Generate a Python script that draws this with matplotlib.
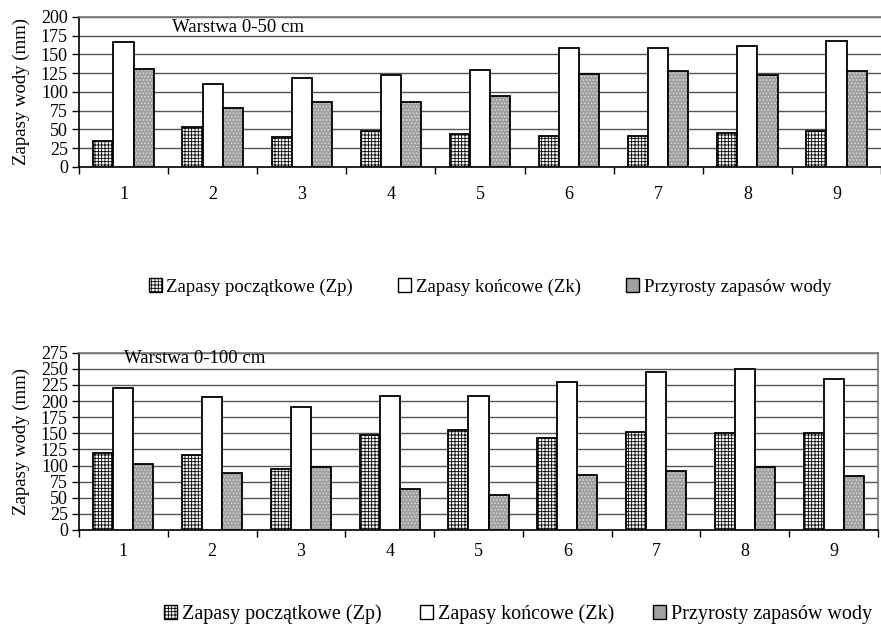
import matplotlib
matplotlib.use("Agg")
import matplotlib.pyplot as plt
import matplotlib.patches as mpatches
import numpy as np

plt.rcParams['font.family'] = ['Liberation Serif', 'DejaVu Serif']
plt.rcParams['hatch.linewidth'] = 0.6

categories = ['1', '2', '3', '4', '5', '6', '7', '8', '9']

# Warstwa 0-50 cm
zp_50 = [35, 53, 40, 48, 44, 41, 41, 45, 48]
zk_50 = [166, 111, 118, 122, 129, 159, 159, 161, 168]
pr_50 = [131, 78, 87, 87, 94, 124, 128, 122, 128]

# Warstwa 0-100 cm
zp_100 = [120, 117, 95, 148, 155, 143, 152, 150, 150]
zk_100 = [221, 206, 191, 208, 208, 230, 245, 250, 234]
pr_100 = [102, 89, 98, 64, 54, 86, 92, 98, 84]

series_names = ['Zapasy początkowe (Zp)', 'Zapasy końcowe (Zk)', 'Przyrosty zapasów wody']

W, H = 881, 624
fig = plt.figure(figsize=(W / 100, H / 100), dpi=100)

def px_axes(x0, y0, x1, y1):
    return fig.add_axes([x0 / W, 1 - y1 / H, (x1 - x0) / W, (y1 - y0) / H])

ax1 = px_axes(79, 17, 881, 167)
ax2 = px_axes(79, 352.7, 878, 530)

BW = 0.226
GRAY = '#a0a0a0'

def draw(ax, zp, zk, pr, ymax, label_text, tx, ty, right_spine, xlab_pad):
    x = np.arange(len(categories))
    ax.set_axisbelow(True)
    ax.yaxis.grid(True, color='#555555', linewidth=1.0)
    # Zp: white with dense black grid hatch
    ax.bar(x - BW, zp, BW, color='white', edgecolor='black', hatch='+++++', linewidth=1.3, zorder=3)
    # Zk: white
    ax.bar(x, zk, BW, color='white', edgecolor='black', linewidth=1.3, zorder=3)
    # Przyrosty: gray with light dots
    ax.bar(x + BW, pr, BW, color=GRAY, edgecolor='#dcdcdc', hatch='.....', linewidth=0, zorder=3)
    ax.bar(x + BW, pr, BW, fill=False, edgecolor='black', linewidth=1.3, zorder=4)

    ax.set_xlim(-0.5, len(categories) - 0.5)
    ax.set_ylim(0, ymax)
    ax.set_yticks(np.arange(0, ymax + 1, 25))
    ax.set_xticks(np.arange(-0.5, len(categories) + 0.5, 1.0))
    ax.set_xticklabels([])
    ax.set_xticks(x, minor=True)
    ax.set_xticklabels(categories, minor=True, fontsize=13)
    ax.tick_params(axis='x', which='major', length=5, width=1, direction='out')
    ax.tick_params(axis='x', which='minor', length=0, pad=xlab_pad)
    ax.tick_params(axis='y', length=5, width=1, direction='out', labelsize=13, pad=3)
    ax.set_ylabel('Zapasy wody (mm)', fontsize=13.5, labelpad=8)

    ax.spines['left'].set_color('black')
    ax.spines['bottom'].set_color('black')
    ax.spines['left'].set_linewidth(1.2)
    ax.spines['bottom'].set_linewidth(1.2)
    ax.spines['top'].set_color('#777777')
    ax.spines['top'].set_linewidth(1.2)
    if right_spine:
        ax.spines['right'].set_color('#777777')
        ax.spines['right'].set_linewidth(1.2)
    else:
        ax.spines['right'].set_visible(False)
    ax.text(tx, ty, label_text, transform=ax.transAxes, fontsize=13.5, va='center', ha='left')

draw(ax1, zp_50, zk_50, pr_50, 200, 'Warstwa 0-50 cm', 0.116, 0.933, False, 14)
draw(ax2, zp_100, zk_100, pr_100, 275, 'Warstwa 0-100 cm', 0.056, 0.970, True, 9)

def handles():
    h1 = mpatches.Patch(facecolor='white', edgecolor='black', hatch='+++++', linewidth=1.0)
    h2 = mpatches.Patch(facecolor='white', edgecolor='black', linewidth=1.0)
    h3 = mpatches.Patch(facecolor=GRAY, edgecolor='black', linewidth=1.0)
    return [h1, h2, h3]

fig.legend(handles(), series_names, loc='center', bbox_to_anchor=(490 / W, 1 - 287 / H),
           ncol=3, frameon=False, fontsize=13.5, handlelength=0.7, handleheight=0.7,
           handletextpad=0.25, columnspacing=2.4, borderaxespad=0)
fig.legend(handles(), series_names, loc='center', bbox_to_anchor=(518 / W, 1 - 614 / H),
           ncol=3, frameon=False, fontsize=14.5, handlelength=0.65, handleheight=0.65,
           handletextpad=0.25, columnspacing=1.9, borderaxespad=0)

fig.savefig('out.png', dpi=100)
